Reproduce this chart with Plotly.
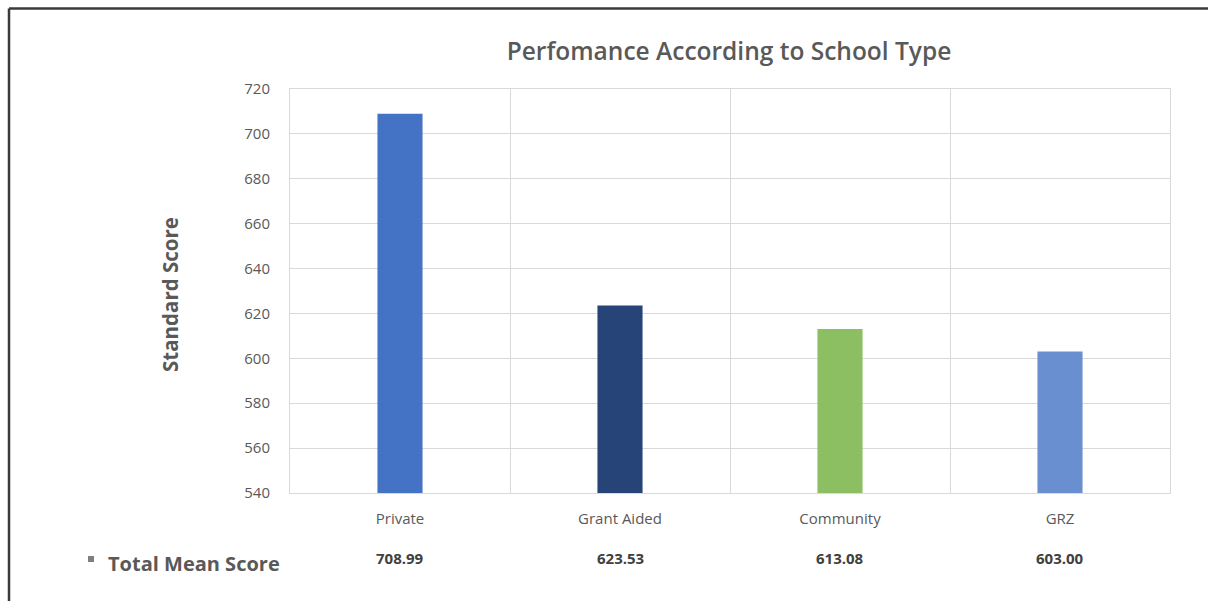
import plotly.graph_objects as go

categories = ["Private", "Grant Aided", "Community", "GRZ"]
mean_scores = [708.99, 623.53, 613.08, 603.00]
bar_colors = ["#4472C4", "#264478", "#8BBF61", "#6A8FD0"]
y_ticks = [540, 560, 580, 600, 620, 640, 660, 680, 700, 720]

FONT = "Open Sans, sans-serif"
TXT = "#595959"

W, H = 1208, 601
L, R, T, B = 290, 38, 89, 108
pw, ph = W - L - R, H - T - B

def px_x(x):
    return (x - L) / pw

def px_y(y):
    return (H - B - y) / ph

fig = go.Figure()
fig.add_trace(go.Bar(
    x=categories, y=mean_scores, marker=dict(color=bar_colors, line=dict(width=0)),
    width=0.205, showlegend=False, hoverinfo="x+y",
))

fig.update_layout(
    width=W, height=H,
    margin=dict(l=L, r=R, t=T, b=B),
    paper_bgcolor="white", plot_bgcolor="white",
    font=dict(family=FONT, color=TXT, size=14),
    title=dict(text="Perfomance According to School Type", xref="container", x=729 / W,
               xanchor="center", yref="container", y=1 - 51 / H, yanchor="middle",
               font=dict(family=FONT, size=24.5, color=TXT, weight=600)),
    xaxis=dict(type="category", tickson="boundaries", showgrid=True, gridcolor="#D9D9D9",
               gridwidth=1, showline=True, linecolor="#D9D9D9", mirror=True, ticks="",
               tickfont=dict(family=FONT, size=15, color=TXT), ticklabelstandoff=12,
               zeroline=False),
    yaxis=dict(range=[540, 720], tickvals=y_ticks, showgrid=True, gridcolor="#D9D9D9",
               gridwidth=1, showline=True, linecolor="#D9D9D9", mirror=True, ticks="",
               tickfont=dict(family=FONT, size=15, color=TXT), ticklabelstandoff=16,
               zeroline=False),
)

# Y axis title
fig.add_annotation(text="<b>Standard Score</b>", textangle=-90, xref="paper", yref="paper",
                   x=px_x(170), y=px_y(295), xanchor="center", yanchor="middle",
                   showarrow=False, font=dict(family=FONT, size=20.5, color=TXT))

# data table row label
fig.add_annotation(text="<b>Total Mean Score</b>", xref="paper", yref="paper",
                   x=px_x(106), y=px_y(563), xanchor="left", yanchor="middle",
                   showarrow=False, font=dict(family=FONT, size=20, color=TXT))
fig.add_shape(type="rect", xref="paper", yref="paper",
              x0=px_x(88), x1=px_x(94), y0=px_y(562), y1=px_y(556),
              fillcolor="#7F7F7F", line=dict(width=0))

for c, v in zip(categories, mean_scores):
    fig.add_annotation(text=f"<b>{v:.2f}</b>", x=c, xref="x", yref="paper", y=px_y(558),
                       xanchor="center", yanchor="middle",
                       showarrow=False, font=dict(family=FONT, size=15, color="#404040"))

# outer frame (top and left)
fig.add_shape(type="line", xref="paper", yref="paper",
              x0=px_x(9), x1=px_x(1208), y0=px_y(8.5), y1=px_y(8.5),
              line=dict(color="#3A3A3A", width=2.5))
fig.add_shape(type="line", xref="paper", yref="paper",
              x0=px_x(9), x1=px_x(9), y0=px_y(8.5), y1=px_y(601),
              line=dict(color="#3A3A3A", width=2.5))

fig.write_html("out.html")
